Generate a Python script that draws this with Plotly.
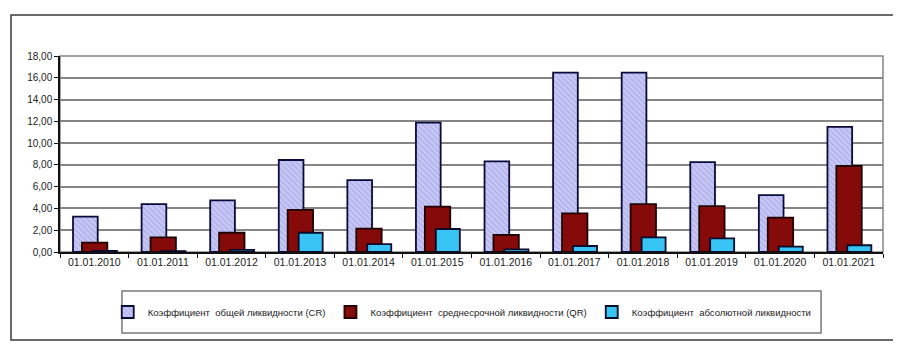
import plotly.graph_objects as go

categories = ["01.01.2010", "01.01.2011", "01.01.2012", "01.01.2013", "01.01.2014", "01.01.2015",
              "01.01.2016", "01.01.2017", "01.01.2018", "01.01.2019", "01.01.2020", "01.01.2021"]
cr_values = [3.24, 4.40, 4.75, 8.45, 6.60, 11.88, 8.33, 16.47, 16.47, 8.26, 5.23, 11.50]
qr_values = [0.86, 1.35, 1.77, 3.86, 2.15, 4.16, 1.56, 3.55, 4.40, 4.22, 3.15, 7.90]
ar_values = [0.10, 0.08, 0.20, 1.77, 0.73, 2.11, 0.25, 0.55, 1.35, 1.26, 0.50, 0.62]
series_names = ["Коэффициент  общей ликвидности (CR)",
                "Коэффициент  среднесрочной ликвидности (QR)",
                "Коэффициент  абсолютной ликвидности"]
y_ticks = [0, 2, 4, 6, 8, 10, 12, 14, 16, 18]

FONT = "Arial, Liberation Sans, sans-serif"

fig = go.Figure()
fig.add_trace(go.Bar(
    x=categories, y=cr_values, name=series_names[0],
    width=0.36, offset=-0.31,
    marker=dict(color="#c0c0f2",
                pattern=dict(shape="\\", fgcolor="#9494e2", bgcolor="#c8c8f4", size=4, solidity=0.35),
                line=dict(color="#0a0a3c", width=1.8)),
))
fig.add_trace(go.Bar(
    x=categories, y=qr_values, name=series_names[1],
    width=0.37, offset=-0.18,
    marker=dict(color="#850a0a", line=dict(color="#200000", width=1.8)),
))
fig.add_trace(go.Bar(
    x=categories, y=ar_values, name=series_names[2],
    width=0.35, offset=-0.02,
    marker=dict(color="#38c3f5", line=dict(color="#0a0a2a", width=1.8)),
))

# page has an 8px body margin: figure is 893x341, placed at (8, 8)
fig.update_layout(
    width=893, height=341,
    barmode="overlay",
    separators=", ",
    paper_bgcolor="white", plot_bgcolor="white",
    margin=dict(l=52, r=18, t=48, b=97),
    font=dict(family=FONT, size=10, color="#222222"),
    showlegend=True,
    legend=dict(orientation="h", x=0.058, xanchor="left", y=-0.306, yanchor="middle",
                font=dict(family=FONT, size=9.5, color="#222222"),
                itemwidth=30, bgcolor="rgba(0,0,0,0)", borderwidth=0,
                traceorder="normal"),
    xaxis=dict(type="category", showgrid=False, showline=True, linecolor="#111111", linewidth=1.5,
               ticks="outside", tickson="boundaries", ticklen=4, tickcolor="#111111",
               tickfont=dict(family=FONT, size=10.5, color="#222222")),
    yaxis=dict(range=[0, 18], tickvals=y_ticks, tickformat=".2f", showgrid=True,
               gridcolor="#858585", gridwidth=1.5, showline=True, linecolor="#111111", linewidth=1.5,
               ticks="outside", ticklen=4, tickcolor="#111111", zeroline=False,
               tickfont=dict(family=FONT, size=10, color="#222222")),
    shapes=[
        # plot area border
        dict(type="rect", xref="paper", yref="paper", x0=0, x1=1, y0=0, y1=1,
             line=dict(color="#858585", width=1.5), layer="below"),
        # outer chart frame
        dict(type="rect", xref="paper", yref="paper", x0=-0.0595, x1=1.0134, y0=-0.449, y1=1.209,
             line=dict(color="#3a3a3a", width=1.5)),
        # legend box
        dict(type="rect", xref="paper", yref="paper", x0=0.0753, x1=0.9247, y0=-0.199, y1=-0.413,
             line=dict(color="#7a7a7a", width=1.5)),
    ],
)

fig.write_html("out.html")
